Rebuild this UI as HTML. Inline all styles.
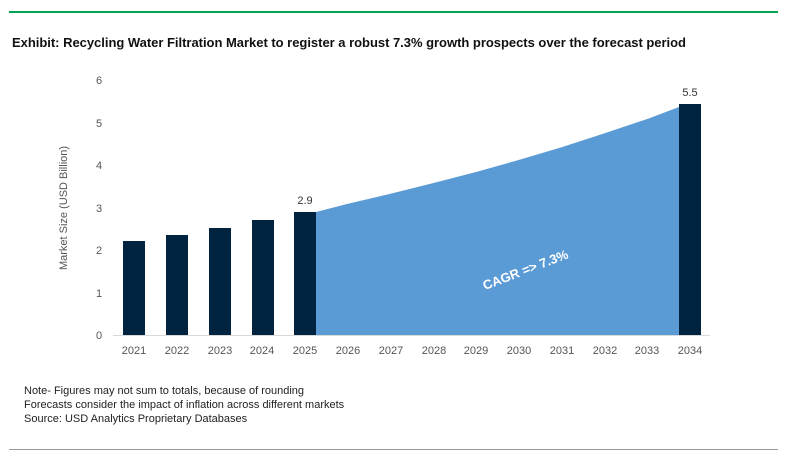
<!DOCTYPE html>
<html><head><meta charset="utf-8"><style>
body{margin:0;background:#fff;width:800px;height:465px;overflow:hidden;font-family:"Liberation Sans",sans-serif}
</style></head><body>
<svg width="800" height="465" xmlns="http://www.w3.org/2000/svg" font-family="Liberation Sans, sans-serif">
<line x1="9" y1="12" x2="778" y2="12" stroke="#00a651" stroke-width="2"/>
<text x="12" y="47" font-size="13" font-weight="bold" fill="#111" textLength="674">Exhibit: Recycling Water Filtration Market to register a robust 7.3% growth prospects over the forecast period</text>
<g font-size="11" fill="#555" text-anchor="middle">
<text x="99" y="84">6</text><text x="99" y="127">5</text><text x="99" y="169">4</text><text x="99" y="212">3</text><text x="99" y="254">2</text><text x="99" y="297">1</text><text x="99" y="339">0</text>
</g>
<text transform="translate(67,208) rotate(-90)" font-size="11" fill="#555" text-anchor="middle">Market Size (USD Billion)</text>
<path d="M316,212 L348,203.8 L391,193.6 L434,182.9 L477,171.8 L519,159.9 L562,147.1 L605,133.1 L648,118.7 L679,107 L679,335 L316,335 Z" fill="#5b9bd5"/>
<g fill="#002340">
<rect x="123" y="241" width="22" height="94"/>
<rect x="166" y="235" width="22" height="100"/>
<rect x="209" y="228" width="22" height="107"/>
<rect x="252" y="220" width="22" height="115"/>
<rect x="294" y="212" width="22" height="123"/>
<rect x="679" y="104" width="22" height="231"/>
</g>
<line x1="113" y1="335.5" x2="710" y2="335.5" stroke="#d9d9d9" stroke-width="1"/>
<text x="305" y="204" font-size="11" fill="#333" text-anchor="middle">2.9</text>
<text x="690" y="96" font-size="11" fill="#333" text-anchor="middle">5.5</text>
<text transform="translate(527,274) rotate(-21)" font-size="13" font-weight="bold" fill="#fff" text-anchor="middle">CAGR =&gt; 7.3%</text>
<g font-size="11" fill="#555" text-anchor="middle">
<text x="134" y="354">2021</text><text x="177" y="354">2022</text><text x="220" y="354">2023</text><text x="262" y="354">2024</text><text x="305" y="354">2025</text><text x="348" y="354">2026</text><text x="391" y="354">2027</text><text x="434" y="354">2028</text><text x="476" y="354">2029</text><text x="519" y="354">2030</text><text x="562" y="354">2031</text><text x="605" y="354">2032</text><text x="647" y="354">2033</text><text x="690" y="354">2034</text>
</g>
<g font-size="11" fill="#222">
<text x="24" y="394">Note- Figures may not sum to totals, because of rounding</text>
<text x="24" y="408">Forecasts consider the impact of inflation across different markets</text>
<text x="24" y="422">Source: USD Analytics Proprietary Databases</text>
</g>
<line x1="9" y1="449.5" x2="778" y2="449.5" stroke="#999" stroke-width="1"/>
</svg>
</body></html>
